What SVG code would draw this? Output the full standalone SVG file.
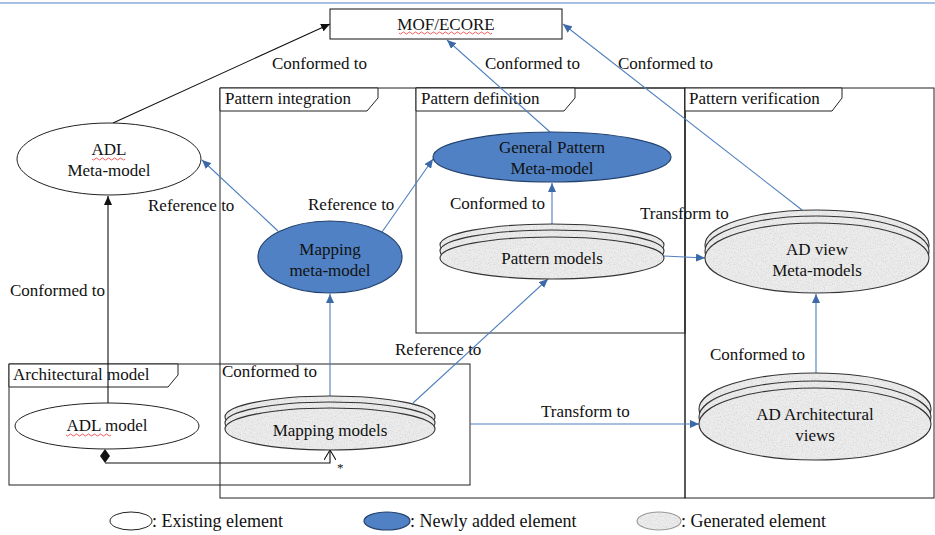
<svg xmlns="http://www.w3.org/2000/svg" width="935" height="535" viewBox="0 0 935 535">
<style>
text{font-family:"Liberation Serif","Times New Roman",serif;font-size:17px;fill:#111}
.c{text-anchor:middle}
.lg{font-size:18px}
.frame{fill:none;stroke:#222;stroke-width:1}
.tab{fill:#fff;stroke:#222;stroke-width:1}
.exist{fill:#fff;stroke:#222;stroke-width:1}
.new{fill:#4f81c4;stroke:#24426e;stroke-width:1.2}
.gen{fill:url(#genfill);stroke:#333;stroke-width:1.1}
.bl{fill:none;stroke:#4f7fbf;stroke-width:1.1}
.bk{fill:none;stroke:#111;stroke-width:1.1}
.sq{fill:none;stroke:#e33;stroke-width:0.8}
</style>
<defs>
<marker id="ab" markerUnits="userSpaceOnUse" markerWidth="10" markerHeight="8" refX="9" refY="4" orient="auto"><path d="M0,0 L9,4 L0,8 z" fill="#3c6aa8"/></marker>
<marker id="ak" markerUnits="userSpaceOnUse" markerWidth="10" markerHeight="8" refX="9" refY="4" orient="auto"><path d="M0,0 L9,4 L0,8 z" fill="#111"/></marker>
<marker id="ao" markerUnits="userSpaceOnUse" markerWidth="12" markerHeight="12" refX="10" refY="6" orient="auto"><path d="M0,0 L10,6 L0,12" fill="none" stroke="#111" stroke-width="1.1"/></marker>
<filter id="noise" x="0" y="0" width="100%" height="100%">
<feTurbulence type="fractalNoise" baseFrequency="0.75" numOctaves="2" stitchTiles="stitch"/>
<feColorMatrix type="matrix" values="0 0 0 0 0.55  0 0 0 0 0.55  0 0 0 0 0.55  1.3 0 0 0 -0.55"/>
</filter>
<pattern id="genfill" patternUnits="userSpaceOnUse" width="120" height="120">
<rect width="120" height="120" fill="#ededed"/>
<rect width="120" height="120" filter="url(#noise)"/>
</pattern>
</defs>
<line x1="0" y1="3" x2="935" y2="3" stroke="#8eaadb" stroke-width="1.5"/>

<g id="frames">
<rect id="frame-integration" class="frame" x="220" y="88" width="465" height="410"/>
<rect id="frame-verification" class="frame" x="685" y="88" width="249" height="410"/>
<rect id="frame-definition" class="frame" x="416" y="88" width="269" height="245"/>
<rect id="frame-architectural" class="frame" x="9" y="364" width="461" height="121"/>
<path class="tab" d="M220,88 H378 V98 L367,111 H220 Z"/>
<text x="225" y="104">Pattern integration</text>
<path class="tab" d="M416,88 H575 V98 L564,111 H416 Z"/>
<text x="421" y="104">Pattern definition</text>
<path class="tab" d="M685,88 H842 V98 L832,111 H685 Z"/>
<text x="689" y="104">Pattern verification</text>
<path class="tab" d="M9,364 H178 V375 L168,387 H9 Z"/>
<text x="13" y="380">Architectural model</text>
</g>

<g id="connectors">
<line class="bk" x1="113" y1="123" x2="330" y2="24" marker-end="url(#ak)"/>
<line class="bk" x1="108" y1="403" x2="108" y2="196" marker-end="url(#ak)"/>
<line class="bl" x1="278" y1="231" x2="202" y2="160" marker-end="url(#ab)"/>
<line class="bl" x1="382" y1="232" x2="433" y2="159" marker-end="url(#ab)"/>
<line class="bl" x1="550" y1="132" x2="447" y2="40" marker-end="url(#ab)"/>
<line class="bl" x1="552" y1="224" x2="552" y2="183" marker-end="url(#ab)"/>
<line class="bl" x1="664" y1="256" x2="705" y2="258" marker-end="url(#ab)"/>
<line class="bl" x1="802" y1="210" x2="563" y2="24" marker-end="url(#ab)"/>
<line class="bl" x1="816" y1="373" x2="816" y2="294" marker-end="url(#ab)"/>
<line class="bl" x1="470" y1="424" x2="699" y2="424" marker-end="url(#ab)"/>
<line class="bl" x1="413" y1="403" x2="548" y2="279" marker-end="url(#ab)"/>
<line class="bl" x1="330" y1="396" x2="330" y2="294" marker-end="url(#ab)"/>
<path class="bk" d="M105,463 H330 V450" marker-end="url(#ao)"/>
<path d="M105,449 L110,456 L105,463 L100,456 Z" fill="#111"/>
<text x="337" y="472" style="font-size:13px">*</text>
<text x="272" y="69">Conformed to</text>
<text x="485" y="69">Conformed to</text>
<text x="618" y="69">Conformed to</text>
<text x="148" y="211">Reference to</text>
<text x="308" y="210">Reference to</text>
<text x="450" y="209">Conformed to</text>
<text x="640" y="219">Transform to</text>
<text x="10" y="296">Conformed to</text>
<text x="395" y="355">Reference to</text>
<text x="710" y="360">Conformed to</text>
<text x="222" y="377">Conformed to</text>
<text x="541" y="417">Transform to</text>
</g>

<g id="mof">
<rect x="330" y="9" width="232" height="30" fill="#fff" stroke="#111" stroke-width="1"/>
<text class="c" x="446" y="30">MOF/ECORE</text>
<path class="sq" d="M399,33 q1.5,2 3,0 t3,0 t3,0 t3,0 t3,0 t3,0 t3,0 t3,0 t3,0 t3,0 t3,0 t3,0 t3,0 t3,0 t3,0 t3,0 t3,0 t3,0 t3,0 t3,0 t3,0 t3,0 t3,0 t3,0 t3,0 t3,0 t3,0 t3,0 t3,0 t3,0 t3,0"/>
</g>

<g id="adl-metamodel">
<ellipse class="exist" cx="109" cy="159" rx="92" ry="36"/>
<text class="c" x="109" y="155">ADL</text>
<path class="sq" d="M92,159 q1.5,2 3,0 t3,0 t3,0 t3,0 t3,0 t3,0 t3,0 t3,0 t3,0 t3,0 t3,0"/>
<text class="c" x="109" y="176">Meta-model</text>
</g>

<g id="mapping-metamodel">
<ellipse class="new" cx="330" cy="257" rx="72" ry="36"/>
<text class="c" x="330" y="255">Mapping</text>
<text class="c" x="330" y="276">meta-model</text>
</g>

<g id="general-pattern-metamodel">
<ellipse class="new" cx="552" cy="157" rx="119" ry="25"/>
<text class="c" x="552" y="153">General Pattern</text>
<text class="c" x="552" y="174">Meta-model</text>
</g>

<g id="pattern-models">
<ellipse class="gen" cx="552" cy="245" rx="112" ry="21"/>
<ellipse class="gen" cx="552" cy="251" rx="112" ry="21"/>
<ellipse class="gen" cx="552" cy="258" rx="112" ry="21"/>
<text class="c" x="552" y="264">Pattern models</text>
</g>

<g id="ad-view-metamodels">
<ellipse class="gen" cx="817" cy="245" rx="112" ry="35"/>
<ellipse class="gen" cx="817" cy="251" rx="112" ry="35"/>
<ellipse class="gen" cx="817" cy="258" rx="112" ry="35"/>
<text class="c" x="817" y="255">AD view</text>
<text class="c" x="817" y="276">Meta-models</text>
</g>

<g id="adl-model">
<ellipse class="exist" cx="107" cy="426" rx="92" ry="23"/>
<text class="c" x="107" y="431">ADL model</text>
<path class="sq" d="M66,435 q1.5,2 3,0 t3,0 t3,0 t3,0 t3,0 t3,0 t3,0 t3,0 t3,0 t3,0 t3,0 t3,0 t3,0 t3,0 t3,0"/>
</g>

<g id="mapping-models">
<ellipse class="gen" cx="330" cy="417" rx="105" ry="21"/>
<ellipse class="gen" cx="330" cy="423" rx="105" ry="21"/>
<ellipse class="gen" cx="330" cy="429" rx="105" ry="21"/>
<text class="c" x="330" y="436">Mapping models</text>
</g>

<g id="ad-architectural-views">
<ellipse class="gen" cx="815" cy="409" rx="116" ry="36"/>
<ellipse class="gen" cx="815" cy="417" rx="116" ry="36"/>
<ellipse class="gen" cx="815" cy="424" rx="116" ry="36"/>
<text class="c" x="815" y="420">AD Architectural</text>
<text class="c" x="815" y="441">views</text>
</g>

<g id="legend">
<ellipse class="exist" cx="131" cy="521" rx="21" ry="9"/>
<text class="lg" x="152" y="527">: Existing element</text>
<ellipse class="new" cx="387" cy="521" rx="23" ry="9"/>
<text class="lg" x="410" y="527">: Newly added element</text>
<ellipse class="gen" cx="659" cy="521" rx="22" ry="9" style="stroke:#999"/>
<text class="lg" x="681" y="527">: Generated element</text>
</g>
</svg>
